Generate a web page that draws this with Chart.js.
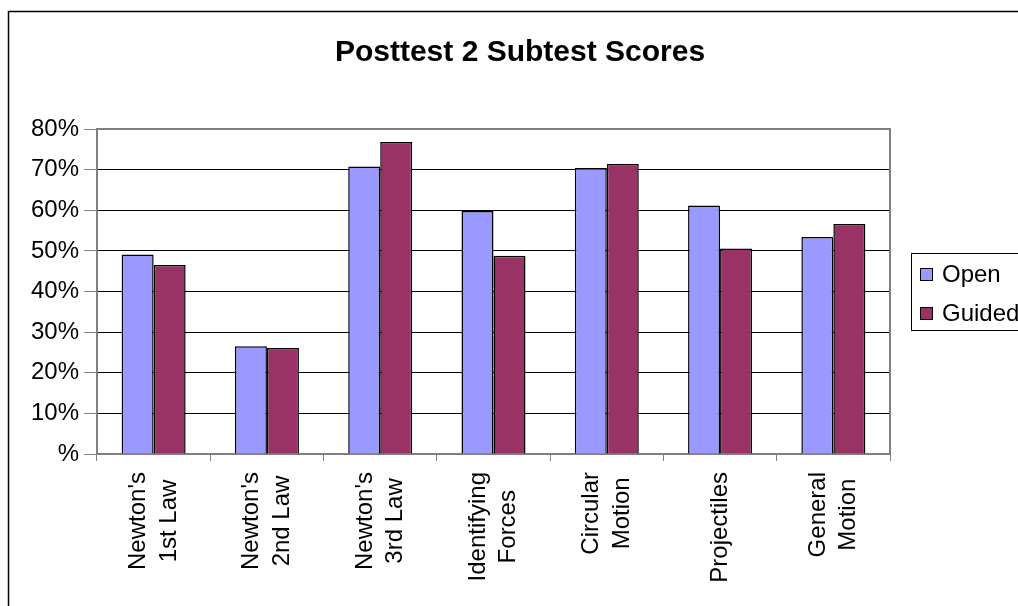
<!DOCTYPE html>
<html lang="en">
<head>
    <meta charset="UTF-8">
    <title>Posttest 2 Subtest Scores</title>
    <script src="https://cdn.jsdelivr.net/npm/chart.js"></script>
    <style>
        body { margin: 0; background: #fff; }
        #wrap { width: 1018px; height: 606px; position: relative; }
    </style>
</head>
<body>
    <div id="wrap"><canvas id="scoreChart"></canvas></div>

    <script>
        // Data (percent)
        const categories = [
            ["Newton's", "1st Law"],
            ["Newton's", "2nd Law"],
            ["Newton's", "3rd Law"],
            ["Identifying", "Forces"],
            ["Circular", "Motion"],
            ["Projectiles"],
            ["General", "Motion"]
        ];
        const openScores = [49.1, 26.5, 70.8, 59.8, 70.4, 61.2, 53.4];
        const guidedScores = [46.5, 26.1, 76.8, 48.8, 71.4, 50.6, 56.6];
        const yTicks = [0, 10, 20, 30, 40, 50, 60, 70, 80];

        const FONT = "Arial, 'Liberation Sans', sans-serif";

        // title, legend, frames and x labels drawn by hand to match the Excel look
        const excelDecor = {
            id: 'excelDecor',
            afterDraw(chart) {
                const ctx = chart.ctx;
                const area = chart.chartArea;
                ctx.save();

                // outer frame (right/bottom fall outside the picture)
                ctx.strokeStyle = '#000';
                ctx.lineWidth = 1.5;
                ctx.strokeRect(8.5, 11.5, 1200, 800);

                // plot area frame
                ctx.strokeStyle = '#808080';
                ctx.lineWidth = 2;
                ctx.beginPath();
                ctx.moveTo(area.left, area.top);
                ctx.lineTo(area.right, area.top);
                ctx.lineTo(area.right, area.bottom);
                ctx.stroke();

                // title
                ctx.fillStyle = '#000';
                ctx.font = 'bold 30px ' + FONT;
                ctx.textAlign = 'center';
                ctx.textBaseline = 'alphabetic';
                ctx.fillText('Posttest 2 Subtest Scores', 520, 61);

                // x labels, rotated, lines centred within each label
                const xs = chart.scales.x;
                ctx.font = '24px ' + FONT;
                const lineGap = 30.6;
                const labelTop = area.bottom + 18;
                categories.forEach((lines, i) => {
                    const cx = xs.getPixelForValue(i);
                    const maxW = Math.max(...lines.map(l => ctx.measureText(l).width));
                    const cy = labelTop + maxW / 2;
                    lines.forEach((line, j) => {
                        const lx = cx + (j - (lines.length - 1) / 2) * lineGap;
                        ctx.save();
                        ctx.translate(lx, cy);
                        ctx.rotate(-Math.PI / 2);
                        ctx.textAlign = 'center';
                        ctx.textBaseline = 'middle';
                        ctx.fillText(line, 0, 0);
                        ctx.restore();
                    });
                });

                // legend
                ctx.strokeStyle = '#000';
                ctx.lineWidth = 1;
                ctx.strokeRect(911.5, 253.5, 200, 77);
                ctx.textAlign = 'left';
                ctx.textBaseline = 'middle';
                chart.data.datasets.forEach((ds, i) => {
                    const y = 268 + i * 39;
                    ctx.fillStyle = ds.backgroundColor;
                    ctx.fillRect(920, y, 13, 13);
                    ctx.strokeRect(920.5, y + 0.5, 12, 12);
                    ctx.fillStyle = '#000';
                    ctx.fillText(ds.label, 942, y + 7);
                });

                ctx.restore();
            }
        };

        new Chart(document.getElementById('scoreChart'), {
            type: 'bar',
            data: {
                labels: categories,
                datasets: [{
                    label: 'Open',
                    data: openScores,
                    backgroundColor: '#9999FF',
                    borderColor: '#000',
                    borderWidth: 1.5,
                    borderSkipped: 'bottom'
                }, {
                    label: 'Guided',
                    data: guidedScores,
                    backgroundColor: '#993366',
                    borderColor: '#000',
                    borderWidth: 1.5,
                    borderSkipped: 'bottom'
                }]
            },
            options: {
                responsive: true,
                maintainAspectRatio: false,
                animation: false,
                categoryPercentage: 0.565,
                barPercentage: 1,
                layout: { padding: { top: 129, right: 128, bottom: 0, left: 0 } },
                plugins: {
                    legend: { display: false },
                    title: { display: false },
                    tooltip: { enabled: false }
                },
                scales: {
                    x: {
                        offset: true,
                        grid: {
                            drawOnChartArea: false,
                            drawTicks: true,
                            tickLength: 7,
                            tickColor: '#808080',
                            offset: true
                        },
                        border: { color: '#808080', width: 2 },
                        ticks: { display: false },
                        afterFit(scale) { scale.height = 152; }
                    },
                    y: {
                        min: 0,
                        max: 80,
                        afterBuildTicks(scale) {
                            scale.ticks = yTicks.map(v => ({ value: v }));
                        },
                        grid: {
                            color: '#000',
                            lineWidth: 1,
                            tickLength: 13,
                            tickColor: '#808080'
                        },
                        border: { color: '#808080', width: 2 },
                        ticks: {
                            color: '#000',
                            padding: 5,
                            font: { family: FONT, size: 24 },
                            callback: v => v === 0 ? '%' : v + '%'
                        },
                        afterFit(scale) { scale.width = 97; }
                    }
                }
            },
            plugins: [excelDecor]
        });
    </script>
</body>
</html>
